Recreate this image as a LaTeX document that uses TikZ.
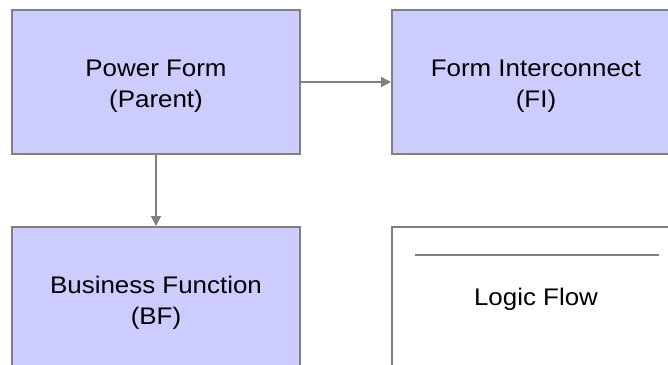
\documentclass[tikz,border=0pt]{standalone}
\usepackage{fontspec}
\setmainfont{Liberation Sans}[FakeStretch=1.08]
\usetikzlibrary{arrows.meta}
\definecolor{boxfill}{RGB}{204,204,255}
\definecolor{edgegray}{RGB}{128,128,128}
\tikzset{
  fbox/.style={draw=edgegray, line width=2pt, fill=boxfill, minimum width=288pt, minimum height=144pt, inner sep=0pt},
  wbox/.style={fbox, fill=white},
  txt/.style={inner sep=0pt, align=center, font=\fontsize{24pt}{31pt}\selectfont},
  conn/.style={draw=edgegray, line width=1.5pt, -{Triangle[length=10pt,width=10pt]}},
}
\begin{document}
\begin{tikzpicture}[x=1pt,y=1pt]
\useasboundingbox (0,0) rectangle (668,-364);
\clip (0,0) rectangle (668,-364);
\node[fbox] (pf) at (156,-82) {};
\node[fbox] (fi) at (536,-82) {};
\node[fbox] (bf) at (156,-299) {};
\node[wbox] (lf) at (536,-299) {};
\node[txt] (pft) at ([yshift=-4]pf.center) {Power Form\\(Parent)};
\node[txt] (fit) at ([yshift=-4]fi.center) {Form Interconnect\\(FI)};
\node[txt] (bft) at ([yshift=-4]bf.center) {Business Function\\(BF)};
\node[txt] (lft) at (lf.center) {Logic Flow};
\draw[edgegray, line width=2pt] ([shift={(24,-29)}]lf.north west) -- ([shift={(-22,-29)}]lf.north east);
\draw[conn] (pf.east) -- (fi.west);
\draw[conn] (pf.south) -- (bf.north);
\end{tikzpicture}
\end{document}
